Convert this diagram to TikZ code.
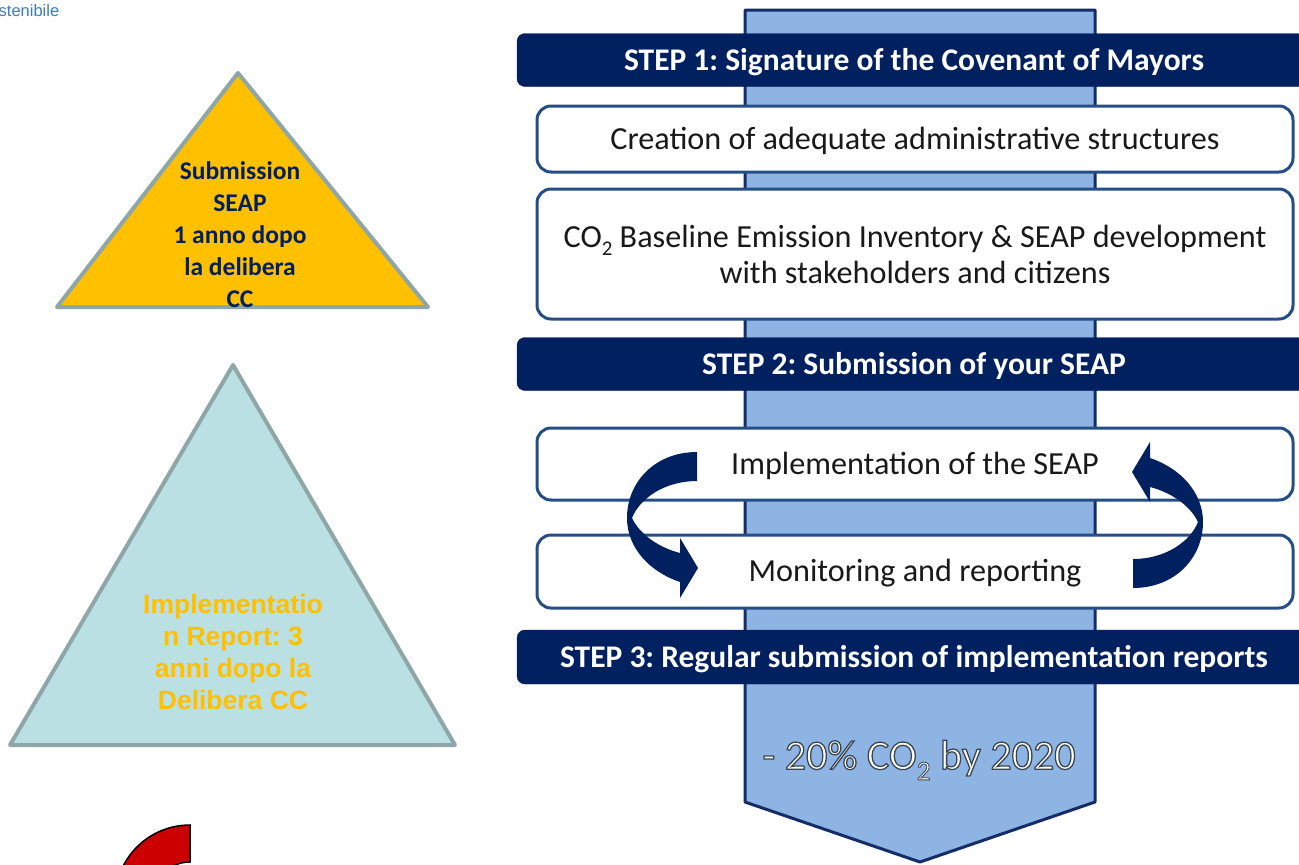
\documentclass[tikz,border=0pt]{standalone}
\usepackage{fontspec}
\setmainfont{Carlito}
\newfontfamily\arialf{Liberation Sans}
\newfontfamily\goalfont[FakeBold=3]{Carlito}
\definecolor{navy}{RGB}{0,32,96}
\definecolor{boxline}{RGB}{37,78,134}
\definecolor{arrowfill}{RGB}{142,180,227}
\definecolor{arrowline}{RGB}{20,45,105}
\definecolor{trigray}{RGB}{142,166,166}
\definecolor{gold}{RGB}{255,192,0}
\definecolor{lteal}{RGB}{187,224,227}
\definecolor{seablue}{RGB}{60,125,185}
\definecolor{cream}{RGB}{255,253,235}
\definecolor{redshape}{RGB}{204,0,0}
\newcommand\lowtwo{\raisebox{-0.25em}{\scalebox{0.65}{2}}}
\newcommand\goalstroke{\special{pdf:code 0.22 0.27 0.35 RG}}
\newcommand\goaltwo{\raisebox{-0.25em}{\scalebox{0.65}{\goalstroke 2}}}
\frenchspacing
\begin{document}
\begin{tikzpicture}[x=1pt,y=-1pt,
  stepbar/.style={fill=navy, draw=navy, rounded corners=8pt, minimum width=794pt,
    minimum height=53pt, inner sep=0pt, text=white, text height=20.3pt, text depth=0pt,
    font=\fontsize{31.5}{36}\selectfont\bfseries},
  infobox/.style={fill=white, draw=boxline, line width=3pt, rounded corners=14pt,
    minimum width=756pt, inner sep=0pt, align=center, text=black!90,
    font=\fontsize{32.2}{36}\selectfont},
  oneline/.style={text height=20.7pt, text depth=0pt},
  tri/.style={draw=trigray, line width=4pt, line join=round},
  cyc/.style={fill=navy, draw=none}
]
\clip (0,0) rectangle (1299,865);
\fill[white] (0,0) rectangle (1299,865);

% header fragment
\node[anchor=west, inner sep=0pt, text=seablue, font=\arialf\fontsize{16.5}{18}\selectfont] (hdr) at (-1.5,11) {stenibile};

% triangles
\draw[tri, fill=gold] (238,73) -- (428,307) -- (57,307) -- cycle;
\node[align=center, text=navy, font=\fontsize{25.5}{32}\selectfont\bfseries] (t1) at (240,235)
  {Submission\\SEAP\\1 anno dopo\\la delibera\\CC};
\draw[tri, fill=lteal] (233,365) -- (455,745) -- (10,745) -- cycle;
\node[align=center, text=gold, font=\arialf\fontsize{26.5}{32}\selectfont\bfseries] (t2) at (233,652)
  {Implementatio\\n Report: 3\\anni dopo la\\Delibera CC};

% red shape
\draw[fill=redshape, draw=black, line width=1.5pt]
  (190,825) arc[start angle=90, end angle=180, radius=75pt] -- (152,900)
  arc[start angle=180, end angle=90, radius=38pt] -- cycle;

% big arrow
\draw[fill=arrowfill, draw=arrowline, line width=3pt, line join=round]
  (745,10) -- (1095,10) -- (1095,802) -- (920,862) -- (745,802) -- cycle;

% steps and boxes
\node[stepbar] (s1) at (914,60) {STEP 1: Signature of the Covenant of Mayors};
\node[infobox, oneline, minimum height=66pt] (b1) at (915,139) {Creation of adequate administrative structures};
\node[infobox, minimum height=130pt] (b2) at (915,254)
  {CO\lowtwo{} Baseline Emission Inventory \& SEAP development\\with stakeholders and citizens};
\node[stepbar] (s2) at (914,364) {STEP 2: Submission of your SEAP};
\node[infobox, oneline, minimum height=72pt] (b3) at (915,464) {Implementation of the SEAP};
\node[infobox, oneline, minimum height=73pt] (b4) at (915,571.5) {Monitoring and reporting};
\node[stepbar, minimum height=54pt] (s3) at (914,657) {STEP 3: Regular submission of implementation reports};

% cycle arrows
\path[cyc] (697,452) .. controls (655,452) and (627,482) .. (627,518)
  .. controls (627,548) and (650,572) .. (680,582) -- (680,598) -- (698,568) -- (680,538) -- (680,553)
  .. controls (660,548) and (640,535) .. (632,518)
  .. controls (640,498) and (665,481) .. (697,481) -- cycle;
\begin{scope}[rotate around={180:(915,520)}]
\path[cyc] (697,452) .. controls (655,452) and (627,482) .. (627,518)
  .. controls (627,548) and (650,572) .. (680,582) -- (680,598) -- (698,568) -- (680,538) -- (680,553)
  .. controls (660,548) and (640,535) .. (632,518)
  .. controls (640,498) and (665,481) .. (697,481) -- cycle;
\end{scope}

% goal text
\node[text=cream, font=\goalfont\fontsize{42}{48}\selectfont] (goal) at (919,760)
  {\goalstroke- 20\% CO\goaltwo{}\goalstroke{} by 2020};
\end{tikzpicture}
\end{document}
